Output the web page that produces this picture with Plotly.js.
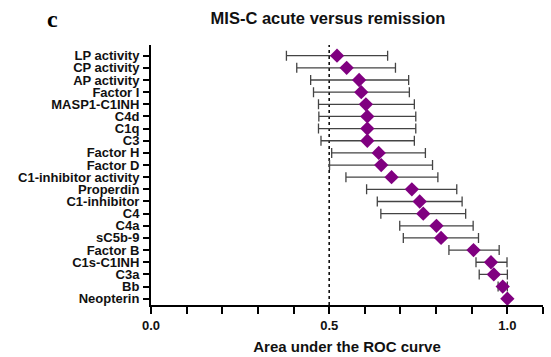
<!DOCTYPE html>
<html>
<head>
<meta charset="utf-8">
<script src="https://cdn.plot.ly/plotly-3.0.1.min.js"></script>
<style>
  html, body { margin: 0; padding: 0; background: #fff; }
  #chart { width: 551px; height: 357px; }
</style>
</head>
<body>
<div id="chart"></div>
<script>
// Complement markers, top to bottom
const markers = [
  "LP activity", "CP activity", "AP activity", "Factor I", "MASP1-C1INH",
  "C4d", "C1q", "C3", "Factor H", "Factor D", "C1-inhibitor activity",
  "Properdin", "C1-inhibitor", "C4", "C4a", "sC5b-9", "Factor B",
  "C1s-C1INH", "C3a", "Bb", "Neopterin"
];

// Area under the ROC curve with 95% CI bounds
const auc = [
  0.522, 0.549, 0.584, 0.590, 0.603,
  0.607, 0.607, 0.607, 0.639, 0.646, 0.675,
  0.732, 0.754, 0.764, 0.801, 0.814, 0.905,
  0.954, 0.962, 0.987, 1.000
];
const ciLow = [
  0.380, 0.409, 0.448, 0.456, 0.470,
  0.471, 0.470, 0.477, 0.507, 0.501, 0.547,
  0.605, 0.635, 0.645, 0.698, 0.708, 0.836,
  0.912, 0.921, 0.974, 1.000
];
const ciHigh = [
  0.664, 0.686, 0.723, 0.725, 0.739,
  0.743, 0.743, 0.739, 0.770, 0.790, 0.805,
  0.858, 0.873, 0.883, 0.904, 0.919, 0.977,
  0.999, 1.000, 1.000, 1.000
];

// x-axis ticks every 0.1, labelled at 0, 0.5 and 1.0
const xTicks = [0, 0.1, 0.2, 0.3, 0.4, 0.5, 0.6, 0.7, 0.8, 0.9, 1.0, 1.1];
const xTickText = ["0.0", "", "", "", "", "0.5", "", "", "", "", "1.0", ""];

const boldFont = "Liberation Sans, Arial, sans-serif";

const trace = {
  type: "scatter",
  mode: "markers",
  x: auc,
  y: markers,
  marker: { symbol: "diamond", size: 11, color: "#800080" },
  error_x: {
    type: "data",
    symmetric: false,
    array: ciHigh.map((h, i) => h - auc[i]),
    arrayminus: ciLow.map((l, i) => auc[i] - l),
    color: "#444444",
    thickness: 1.3,
    width: 5
  },
  hoverinfo: "x+y"
};

// plot area in pixels, used to place the panel letter
const plotLeft = 151, plotRight = 543, plotTop = 45, plotBottom = 305;

const layout = {
  width: 551,
  height: 357,
  margin: { l: plotLeft, r: 551 - plotRight, t: plotTop, b: 357 - plotBottom },
  paper_bgcolor: "#ffffff",
  plot_bgcolor: "#ffffff",
  showlegend: false,
  title: {
    text: "MIS-C acute versus remission",
    font: { family: boldFont, size: 16.5, color: "#111", weight: "bold" },
    x: 328 / 551, xref: "container", xanchor: "center",
    y: 1 - 18 / 357, yref: "container", yanchor: "middle"
  },
  xaxis: {
    range: [0, 1.1],
    tickmode: "array",
    tickvals: xTicks,
    ticktext: xTickText,
    ticks: "outside",
    ticklen: 7,
    tickwidth: 2,
    tickcolor: "#000",
    showline: true,
    linecolor: "#000",
    linewidth: 2,
    showgrid: false,
    zeroline: false,
    tickfont: { family: boldFont, size: 13, color: "#111", weight: "bold" },
    title: {
      text: "Area under the ROC curve",
      font: { family: boldFont, size: 15, color: "#111", weight: "bold" },
      standoff: 10
    }
  },
  yaxis: {
    type: "category",
    range: [20.52, -0.88],
    tickmode: "linear",
    tick0: 0,
    dtick: 1,
    ticks: "outside",
    ticklen: 6,
    tickwidth: 2,
    tickcolor: "#000",
    showline: true,
    linecolor: "#000",
    linewidth: 2,
    showgrid: false,
    zeroline: false,
    tickfont: { family: boldFont, size: 13, color: "#111", weight: "bold" },
    ticklabelstandoff: 1
  },
  shapes: [{
    type: "line",
    xref: "x", yref: "paper",
    x0: 0.5, x1: 0.5, y0: 0, y1: 1,
    line: { color: "#000", width: 1.5, dash: "dot" },
    layer: "below"
  }],
  annotations: [{
    text: "c",
    xref: "paper", yref: "paper",
    x: (52 - plotLeft) / (plotRight - plotLeft),
    y: (plotBottom - 19) / (plotBottom - plotTop),
    xanchor: "center", yanchor: "middle",
    showarrow: false,
    font: { family: "Liberation Serif, Times New Roman, serif", size: 24, color: "#000", weight: "bold" }
  }]
};

Plotly.newPlot("chart", [trace], layout, { displayModeBar: false, staticPlot: true });
</script>
</body>
</html>
